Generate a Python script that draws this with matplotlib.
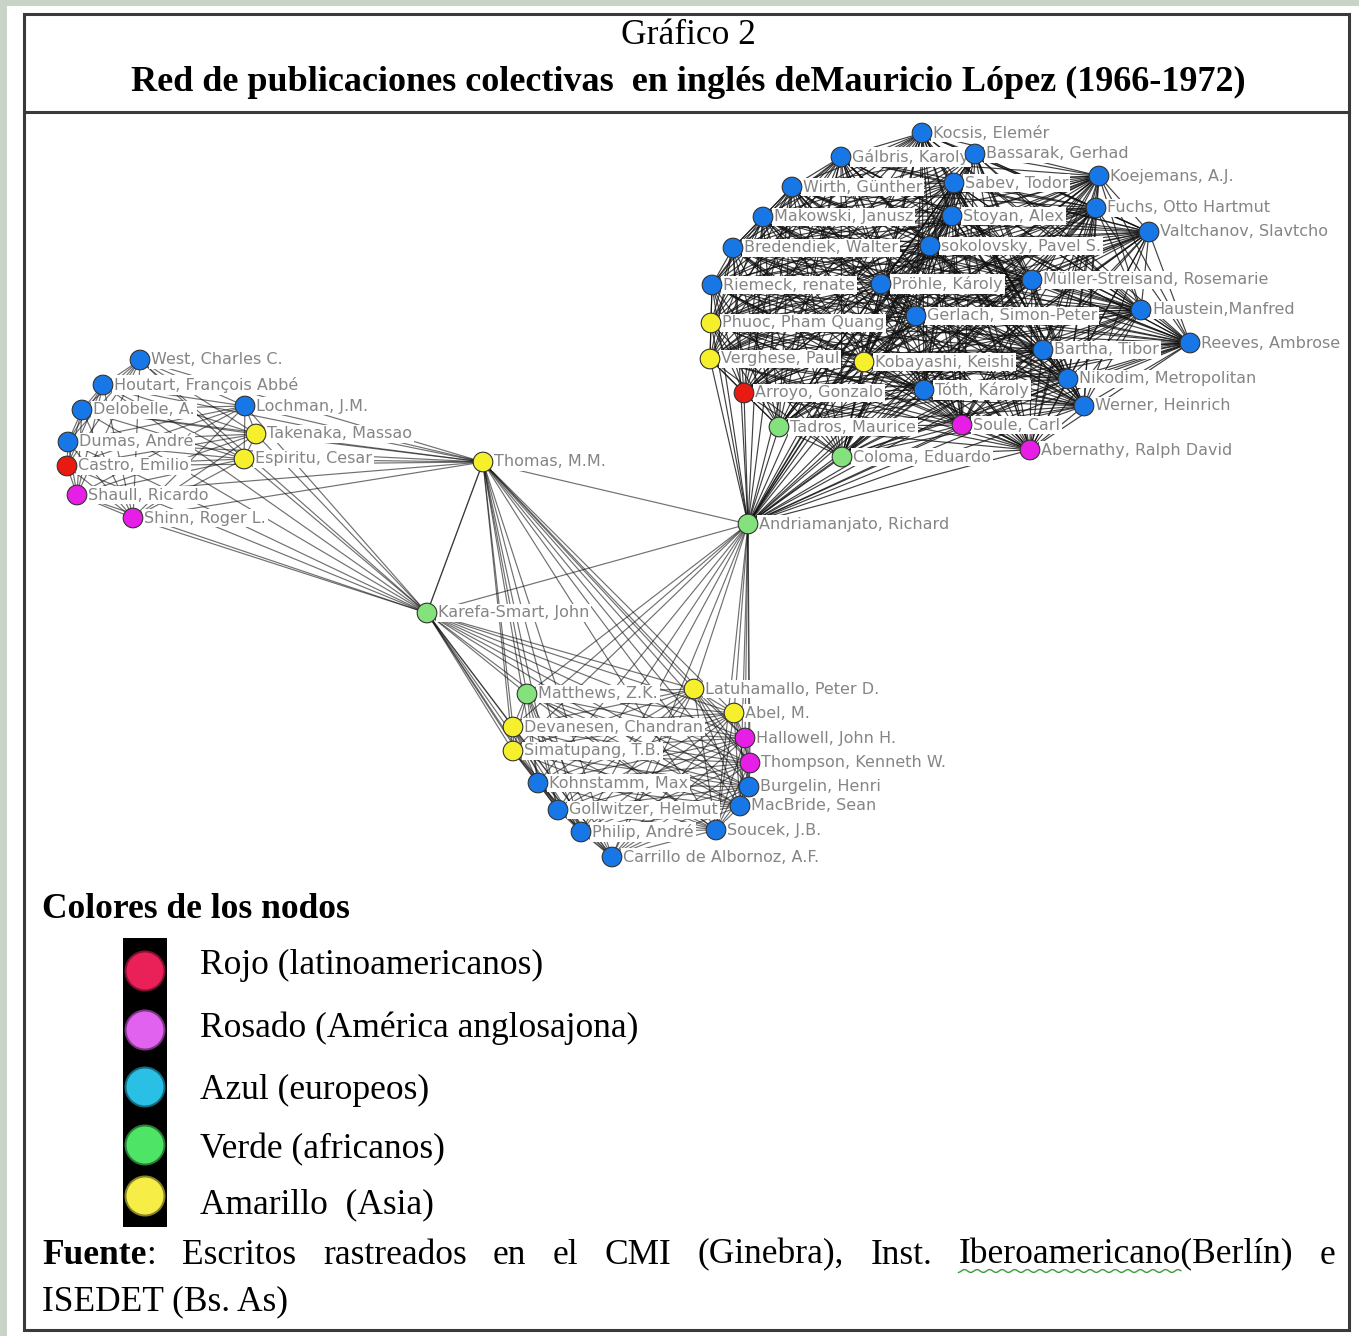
import numpy as np
import matplotlib.pyplot as plt
from matplotlib.patches import Rectangle, Circle
from itertools import combinations

# colours for each region (node fill)
node_colors = {"R": "#e81a12", "P": "#e61ee6", "B": "#1877e6", "G": "#84e27c", "Y": "#f6ef2c"}

# ---- nodes: name, x, y (pixel positions of the layout), region ----
top_names = ["Kocsis, Elemér", "Gálbris, Karoly", "Bassarak, Gerhad", "Wirth, Günther",
             "Sabev, Todor", "Koejemans, A.J.", "Makowski, Janusz", "Stoyan, Alex",
             "Fuchs, Otto Hartmut", "Valtchanov, Slavtcho", "Bredendiek, Walter",
             "sokolovsky, Pavel S.", "Riemeck, renate", "Pröhle, Károly",
             "Müller-Streisand, Rosemarie", "Haustein,Manfred", "Phuoc, Pham Quang",
             "Gerlach, Simon-Peter", "Reeves, Ambrose", "Bartha, Tibor", "Verghese, Paul",
             "Kobayashi, Keishi", "Nikodim, Metropolitan", "Arroyo, Gonzalo", "Tóth, Károly",
             "Werner, Heinrich", "Tadros, Maurice", "Soule, Carl", "Abernathy, Ralph David",
             "Coloma, Eduardo"]
top_x = [922, 841, 975, 792, 954, 1099, 763, 952, 1096, 1149, 733, 930, 712, 881, 1032,
         1141, 711, 916, 1190, 1043, 710, 864, 1068, 744, 924, 1084, 779, 962, 1030, 842]
top_y = [133, 157, 154, 187, 183, 176, 217, 216, 208, 232, 248, 246, 285, 284, 280,
         310, 323, 316, 343, 350, 359, 362, 379, 393, 390, 406, 427, 425, 450, 457]
top_reg = ["B", "B", "B", "B", "B", "B", "B", "B", "B", "B", "B", "B", "B", "B", "B",
           "B", "Y", "B", "B", "B", "Y", "Y", "B", "R", "B", "B", "G", "P", "P", "G"]

left_names = ["West, Charles C.", "Houtart, François Abbé", "Delobelle, A.", "Lochman, J.M.",
              "Dumas, André", "Takenaka, Massao", "Espiritu, Cesar", "Castro, Emilio",
              "Shaull, Ricardo", "Shinn, Roger L."]
left_x = [140, 103, 82, 245, 68, 256, 244, 67, 77, 133]
left_y = [360, 385, 410, 406, 442, 434, 459, 466, 495, 518]
left_reg = ["B", "B", "B", "B", "B", "Y", "Y", "R", "P", "P"]

bottom_names = ["Matthews, Z.K.", "Latuhamallo, Peter D.", "Abel, M.", "Devanesen, Chandran",
                "Hallowell, John H.", "Simatupang, T.B.", "Thompson, Kenneth W.",
                "Kohnstamm, Max", "Burgelin, Henri", "Gollwitzer, Helmut", "MacBride, Sean",
                "Philip, André", "Soucek, J.B.", "Carrillo de Albornoz, A.F."]
bottom_x = [527, 694, 734, 513, 745, 513, 750, 538, 749, 558, 740, 581, 716, 612]
bottom_y = [694, 689, 713, 727, 738, 751, 763, 783, 787, 810, 806, 832, 830, 857]
bottom_reg = ["G", "Y", "Y", "Y", "P", "Y", "P", "B", "B", "B", "B", "B", "B", "B"]

hub_names = ["Thomas, M.M.", "Karefa-Smart, John", "Andriamanjato, Richard"]
hub_x = [483, 427, 748]
hub_y = [462, 613, 524]
hub_reg = ["Y", "G", "G"]

# collective publications -> co-author cliques (with edge weight for darkness)
pub_groups = [
    top_names + ["Andriamanjato, Richard"],
    left_names + ["Thomas, M.M.", "Karefa-Smart, John"],
    bottom_names + ["Thomas, M.M.", "Karefa-Smart, John", "Andriamanjato, Richard"],
]
pub_alpha = [0.8, 0.6, 0.6]

legend_labels = ["Rojo (latinoamericanos)", "Rosado (América anglosajona)", "Azul (europeos)",
                 "Verde (africanos)", "Amarillo  (Asia)"]
legend_colors = ["#ea2058", "#e062ee", "#2ac0e6", "#4ee466", "#f6ee46"]

names = top_names + left_names + bottom_names + hub_names
xs = top_x + left_x + bottom_x + hub_x
ys = top_y + left_y + bottom_y + hub_y
regs = top_reg + left_reg + bottom_reg + hub_reg
pos = {n: (x, y) for n, x, y in zip(names, xs, ys)}

W, H = 1359, 1336
fig = plt.figure(figsize=(W / 100, H / 100), dpi=100)
ax = fig.add_axes([0, 0, 1, 1])
ax.set_xlim(0, W)
ax.set_ylim(H, 0)
ax.axis("off")

# page / frame
fig.patch.set_facecolor("#c9d3c7")
ax.add_patch(Rectangle((7, 6), W - 7, H - 6, fc="white", ec="none", zorder=0))
ax.add_patch(Rectangle((24, 14), 1325, 1316, fc="none", ec="#3a3a3a", lw=2.2, zorder=1))
ax.plot([24, 1349], [112, 112], color="#3a3a3a", lw=2.2, zorder=1)

serif = "Liberation Serif"
FS = 25.5
ax.text(688, 35, "Gráfico 2", ha="center", va="center", fontsize=FS, family=serif)
ax.text(688, 82, "Red de publicaciones colectivas  en inglés deMauricio López (1966-1972)",
        ha="center", va="center", fontsize=26, family=serif, weight="bold")

# edges
for grp, al in zip(pub_groups, pub_alpha):
    for a, b in combinations(grp, 2):
        (x1, y1), (x2, y2) = pos[a], pos[b]
        ax.plot([x1, x2], [y1, y2], color="#111111", lw=0.85, alpha=al, zorder=2)

# labels
for n, x, y in zip(names, xs, ys):
    ax.text(x + 11, y, n, ha="left", va="center", fontsize=11.5, color="#858585",
            family="DejaVu Sans", zorder=3,
            bbox=dict(boxstyle="square,pad=0.12", fc="white", ec="none"))

# nodes
ax.scatter(xs, ys, s=200, c=[node_colors[r] for r in regs], edgecolors="#333333",
           linewidths=0.8, zorder=4)

# legend
ax.text(42, 910, "Colores de los nodos", ha="left", va="center", fontsize=FS,
        family=serif, weight="bold")
ax.add_patch(Rectangle((123, 938), 44, 289, fc="black", ec="none", zorder=2))
leg_cy = [971, 1030, 1087, 1145, 1196]
leg_ty = [965, 1028, 1090, 1150, 1205]
for cy, ty, lab, col in zip(leg_cy, leg_ty, legend_labels, legend_colors):
    ax.add_patch(Circle((145, cy), 20.5, fc=col, ec="none", alpha=0.55, zorder=3))
    ax.add_patch(Circle((145, cy), 18.5, fc=col, ec="none", zorder=4))
    ax.text(200, ty, lab, ha="left", va="center", fontsize=FS, family=serif)

# source line, justified between the frame margins
fig.canvas.draw()
renderer = fig.canvas.get_renderer()
words = ["Fuente", "Escritos", "rastreados", "en", "el", "CMI", "(Ginebra),", "Inst.",
         "Iberoamericano(Berlín)", "e"]
objs = []
for i, w in enumerate(words):
    t = ax.text(0, 1255, w, ha="left", va="center", fontsize=FS, family=serif,
                weight="bold" if i == 0 else "normal")
    objs.append(t)
colon = ax.text(0, 1255, ":", ha="left", va="center", fontsize=FS, family=serif)
widths = [o.get_window_extent(renderer).width for o in objs]
cw = colon.get_window_extent(renderer).width
widths[0] += cw
x0, x1 = 42, 1335
gap = (x1 - x0 - sum(widths)) / (len(words) - 1)
xcur = x0
for i, (o, w) in enumerate(zip(objs, widths)):
    o.set_x(xcur)
    if i == 0:
        colon.set_x(xcur + w - cw)
    if words[i].startswith("Iberoamericano"):
        # spell-check squiggle under the word
        t_ib = ax.text(0, 0, "Iberoamericano", fontsize=FS, family=serif)
        wib = t_ib.get_window_extent(renderer).width
        t_ib.remove()
        sx = np.linspace(xcur, xcur + wib, 120)
        ax.plot(sx, 1271 + 1.5 * np.sin(sx / 2.0), color="#3c9a3c", lw=1)
    xcur += w + gap
ax.text(42, 1302, "ISEDET (Bs. As)", ha="left", va="center", fontsize=FS, family=serif)

fig.savefig("out.png", dpi=100, facecolor=fig.get_facecolor())
